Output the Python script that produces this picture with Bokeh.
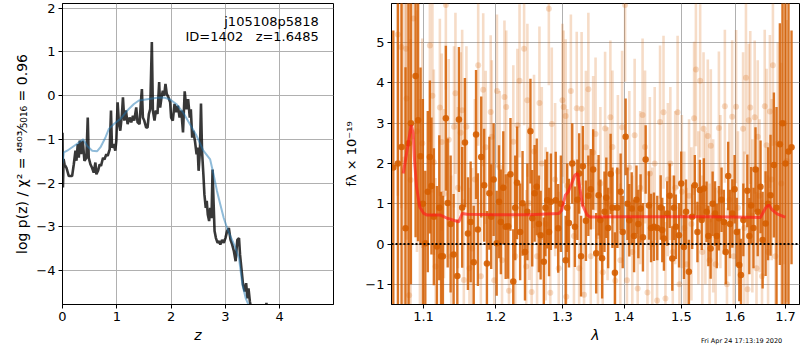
import numpy as np
from bokeh.plotting import figure
from bokeh.models import Range1d, FixedTicker, PrintfTickFormatter, Label, Span, ColumnDataSource, Div
from bokeh.layouts import row, column
from bokeh.embed import file_html
from bokeh.resources import INLINE

FONT = "DejaVu Sans"

# ---------------- left panel: redshift probability ----------------
z_grid = [0.000, 0.008, 0.020, 0.037, 0.073, 0.116, 0.177, 0.208, 0.239, 0.257, 0.281, 0.300,
          0.318, 0.343, 0.373, 0.404, 0.440, 0.465, 0.483, 0.514, 0.544, 0.575, 0.606, 0.624,
          0.654, 0.685, 0.709, 0.746, 0.771, 0.807, 0.832, 0.869, 0.893, 0.911, 0.942, 0.972,
          0.991, 1.015, 1.040, 1.064, 1.095, 1.113, 1.138, 1.168, 1.199, 1.235, 1.266, 1.297,
          1.321, 1.358, 1.382, 1.419, 1.443, 1.462, 1.480, 1.505, 1.541, 1.566, 1.590, 1.615,
          1.645, 1.664, 1.694, 1.719, 1.749, 1.780, 1.798, 1.823, 1.847, 1.872, 1.896, 1.920,
          1.951, 1.982, 2.000, 2.031, 2.063, 2.094, 2.125, 2.156, 2.188, 2.219, 2.250, 2.281,
          2.313, 2.344, 2.363, 2.388, 2.406, 2.438, 2.469, 2.488, 2.506, 2.531, 2.550, 2.569,
          2.594, 2.613, 2.638, 2.656, 2.675, 2.700, 2.719, 2.744, 2.763, 2.781, 2.800, 2.825,
          2.856, 2.888, 2.906, 2.938, 2.969, 3.000, 3.031, 3.063, 3.094, 3.125, 3.156, 3.188,
          3.219, 3.250, 3.269, 3.294, 3.325, 3.356, 3.381, 3.406, 3.425, 3.450, 3.469, 3.520,
          3.620, 3.720, 3.755, 3.790, 3.900, 4.200, 4.600, 5.000]
log_pz = [-0.85, -2.10, -1.45, -1.57, -1.65, -1.84, -1.84, -1.57, -1.26, -1.49, -1.11, -1.42,
          -1.03, -1.34, -1.03, -1.49, -1.42, -0.50, -1.42, -1.57, -1.65, -1.76, -1.53, -1.80,
          -1.72, -1.57, -1.61, -1.42, -1.46, -1.34, -1.38, -1.23, -0.34, -1.19, -1.11, -1.26,
          -1.03, -0.15, -0.65, -0.80, -0.42, -0.04, -0.57, -0.34, -0.65, -0.50, -0.61, -0.46,
          -0.57, -0.27, -0.61, -0.65, -0.15, 0.15, -0.50, -0.57, -0.73, -0.73, -0.42, -0.31,
          1.23, -0.34, -0.57, -0.34, -0.42, 0.31, -0.27, -0.04, 0.11, 0.00, 0.27, 0.04,
          -0.04, -0.15, -0.50, -0.57, -0.19, -0.38, -0.23, -0.50, -0.34, -0.84, 0.10, -0.31,
          -0.08, -0.50, -0.31, -0.96, -0.80, -1.03, -1.34, -1.19, -1.72, -1.26, -0.18, -1.26,
          -1.80, -2.26, -2.57, -2.41, -2.72, -2.87, -2.57, -2.80, -1.69, -2.41, -3.10, -3.26,
          -3.37, -3.33, -3.41, -3.30, -3.37, -3.26, -3.10, -3.03, -3.30, -3.41, -3.56, -3.79,
          -3.30, -3.26, -3.64, -3.95, -4.33, -4.48, -4.29, -4.64, -4.41, -4.71, -4.83, -5.30,
          -5.60, -5.30, -4.74, -5.40, -5.90, -6.50, -7.20, -8.00]

z_prior = [0.000, 0.025, 0.086, 0.178, 0.270, 0.381, 0.455, 0.547, 0.639, 0.700, 0.793, 0.854,
           0.946, 1.069, 1.192, 1.315, 1.407, 1.561, 1.745, 1.868, 1.970, 2.094, 2.219, 2.344,
           2.469, 2.594, 2.719, 2.781, 2.844, 2.906, 2.969, 3.031, 3.094, 3.188, 3.250, 3.313,
           3.375, 3.438, 3.550, 3.700]
log_prior = [-1.55, -1.30, -1.26, -1.18, -1.10, -1.00, -1.15, -1.26, -1.27, -1.18, -0.95, -0.76,
             -0.65, -0.53, -0.34, -0.19, -0.11, -0.08, -0.05, -0.04, -0.08, -0.19, -0.38, -0.65,
             -0.92, -1.26, -1.46, -1.80, -2.18, -2.49, -2.80, -3.03, -3.22, -3.49, -3.72, -4.33,
             -4.64, -4.83, -5.30, -6.00]

z_ticks = [0, 1, 2, 3, 4]
lnp_ticks = [-4, -3, -2, -1, 0, 1, 2]
obj_name = "j105108p5818"
obj_info = "ID=1402\u00a0\u00a0\u00a0z=1.6485"
left_ylabel = "log p(z) / \u03c7\u00b2 = \u2074\u2078\u2070\u00b3\u2044\u2085\u2080\u2081\u2086 = 0.96"

# ---------------- right panel: spectrum ----------------
dark_wave = [1.0608, 1.0667, 1.0714, 1.0765, 1.0804, 1.0835, 1.0896, 1.0929, 1.0961, 1.0992,
             1.1024, 1.1057, 1.1085, 1.1106, 1.1138, 1.1179, 1.1211, 1.1235, 1.1260, 1.1300,
             1.1325, 1.1365, 1.1406, 1.1457, 1.1479, 1.1524, 1.1562, 1.1604, 1.1642, 1.1685,
             1.1718, 1.1744, 1.1791, 1.1833, 1.1872, 1.1907, 1.1933, 1.1968, 1.2012, 1.2046,
             1.2073, 1.2108, 1.2143, 1.2178, 1.2213, 1.2254, 1.2283, 1.2310, 1.2356, 1.2392,
             1.2428, 1.2464, 1.2510, 1.2537, 1.2573, 1.2605, 1.2637, 1.2664, 1.2713, 1.2737,
             1.2765, 1.2793, 1.2821, 1.2896, 1.2934, 1.2976, 1.3051, 1.3075, 1.3103, 1.3155,
             1.3197, 1.3236, 1.3265, 1.3295, 1.3324, 1.3373, 1.3412, 1.3451, 1.3490, 1.3539,
             1.3578, 1.3607, 1.3636, 1.3675, 1.3705, 1.3736, 1.3776, 1.3806, 1.3847, 1.3887,
             1.3943, 1.3978, 1.4027, 1.4059, 1.4089, 1.4130, 1.4170, 1.4211, 1.4243, 1.4282,
             1.4322, 1.4369, 1.4426, 1.4463, 1.4513, 1.4571, 1.4631, 1.4659, 1.4688, 1.4747,
             1.4791, 1.4837, 1.4867, 1.4900, 1.4957, 1.4997, 1.5046, 1.5084, 1.5136, 1.5196,
             1.5244, 1.5292, 1.5337, 1.5371, 1.5411, 1.5461, 1.5495, 1.5537, 1.5574, 1.5619,
             1.5652, 1.5692, 1.5742, 1.5785, 1.5822, 1.5868, 1.5903, 1.5947, 1.5991, 1.6032,
             1.6082, 1.6114, 1.6160, 1.6237, 1.6277, 1.6312, 1.6359, 1.6398, 1.6442, 1.6498,
             1.6539, 1.6598, 1.6648, 1.6697, 1.6765, 1.6818, 1.6886, 1.6939, 1.7000, 1.7062,
             1.7124]
dark_flux = [1.90, 2.00, 2.41, 0.39, 2.50, 3.00, 4.17, 3.07, 2.18, 1.00,
             0.02, 1.30, 2.16, 1.44, 0.68, -0.06, 0.90, -0.30, -0.30, 3.12,
             1.02, 0.50, -0.26, -0.79, 3.09, 0.91, 2.52, 0.26, 0.55, -0.45,
             2.72, 0.36, 2.16, 1.46, -0.48, 1.26, 0.68, 1.60, 0.02, 1.05,
             0.55, 1.40, 0.43, 0.44, 1.73, -0.93, 0.90, 1.52, 0.30, 1.01,
             -0.20, 0.80, 2.80, 0.64, 1.26, 1.42, 0.50, 0.22, -0.44, 0.90,
             1.09, 0.30, 1.05, 1.09, 0.39, 1.00, -0.40, 0.90, 0.52, 2.00,
             0.43, 1.10, 1.75, -0.30, 1.93, 0.58, 1.20, 1.36, 1.85, -0.23,
             1.21, 0.60, -0.35, 0.80, 1.15, 0.40, 1.74, 0.90, -0.71, 0.90,
             1.30, 0.30, 2.66, 1.00, 0.59, 0.88, 0.20, 1.10, 0.50, 0.88,
             0.17, 2.10, 0.96, 0.40, 0.43, 0.40, 0.91, 0.35, 0.14, 0.76,
             1.20, -0.36, 0.90, 0.43, 0.22, 1.50, -0.07, 0.80, -0.69, 0.68,
             1.46, 0.30, 1.34, 0.60, 1.38, 0.80, 0.20, -0.11, 1.00, 0.76,
             0.20, 0.64, 1.10, 0.55, -0.20, 1.69, 0.50, 0.76, 1.36, 0.30,
             -0.52, -0.77, 0.60, 1.32, 0.20, 0.96, 0.40, 1.85, 0.80, 1.42,
             0.10, 0.51, 1.00, 1.21, 1.96, 0.90, 2.48, 3.00, 2.00, 2.30,
             2.40]
dark_err = [3.40, 4.50, 4.50, 4.00, 5.00, 4.00, 4.00, 3.00, 2.20, 2.60,
            1.80, 2.00, 1.90, 1.70, 1.70, 1.50, 1.80, 1.60, 1.50, 1.80,
            1.60, 1.70, 1.50, 1.40, 1.80, 1.50, 1.60, 1.40, 1.50, 1.40,
            1.60, 1.40, 1.50, 1.40, 1.30, 1.40, 1.30, 1.40, 1.30, 1.40,
            1.30, 1.40, 1.30, 1.30, 1.40, 1.30, 1.30, 1.40, 1.20, 1.30,
            1.20, 1.20, 1.30, 1.20, 1.20, 1.20, 1.20, 1.10, 1.10, 1.20,
            1.20, 1.10, 1.20, 1.20, 1.10, 1.20, 1.10, 1.10, 1.10, 1.00,
            1.00, 1.00, 1.00, 1.00, 1.00, 1.00, 1.00, 1.00, 1.00, 1.00,
            1.00, 1.00, 1.00, 1.00, 1.00, 1.00, 1.00, 1.00, 1.00, 1.00,
            0.95, 0.90, 0.95, 0.90, 0.90, 0.90, 0.90, 0.85, 0.85, 0.85,
            0.85, 0.85, 0.85, 0.85, 0.85, 0.80, 0.80, 0.80, 0.80, 0.80,
            0.80, 0.80, 0.80, 0.80, 0.80, 0.80, 0.80, 0.80, 0.80, 0.80,
            0.75, 0.75, 0.75, 0.75, 0.75, 0.75, 0.75, 0.75, 0.80, 0.80,
            0.80, 0.80, 0.80, 0.80, 0.80, 0.85, 0.85, 0.85, 0.85, 0.85,
            0.90, 0.90, 0.90, 0.90, 0.95, 0.95, 1.00, 1.05, 1.10, 1.15,
            1.20, 1.30, 1.40, 1.50, 1.80, 2.50, 3.00, 5.00, 5.00, 4.50,
            2.90]

light_wave = [1.0666, 1.0709, 1.0749, 1.0773, 1.0779, 1.0812, 1.0831, 1.0867, 1.0914, 1.0953,
              1.0984, 1.1085, 1.1119, 1.1138, 1.1162, 1.1219, 1.1244, 1.1274, 1.1300, 1.1339,
              1.1373, 1.1411, 1.1431, 1.1465, 1.1503, 1.1524, 1.1547, 1.1583, 1.1625, 1.1663,
              1.1701, 1.1748, 1.1786, 1.1819, 1.1854, 1.1926, 1.1942, 1.1977, 1.2016, 1.2055,
              1.2090, 1.2125, 1.2151, 1.2191, 1.2255, 1.2283, 1.2315, 1.2347, 1.2415, 1.2446,
              1.2464, 1.2492, 1.2528, 1.2564, 1.2610, 1.2646, 1.2682, 1.2741, 1.2790, 1.2812,
              1.2835, 1.2887, 1.2943, 1.3000, 1.3019, 1.3051, 1.3061, 1.3075, 1.3133, 1.3182,
              1.3226, 1.3265, 1.3304, 1.3343, 1.3373, 1.3412, 1.3451, 1.3490, 1.3529, 1.3568,
              1.3607, 1.3646, 1.3685, 1.3726, 1.3772, 1.3806, 1.3853, 1.3897, 1.3938, 1.3968,
              1.4018, 1.4049, 1.4089, 1.4140, 1.4180, 1.4232, 1.4274, 1.4316, 1.4358, 1.4400,
              1.4442, 1.4484, 1.4526, 1.4568, 1.4620, 1.4681, 1.4715, 1.4758, 1.4802, 1.4845,
              1.4889, 1.4932, 1.4965, 1.5008, 1.5052, 1.5095, 1.5139, 1.5182, 1.5231, 1.5264,
              1.5309, 1.5342, 1.5382, 1.5405, 1.5439, 1.5484, 1.5517, 1.5540, 1.5585, 1.5630,
              1.5692, 1.5720, 1.5805, 1.5845, 1.5892, 1.5944, 1.5974, 1.6020, 1.6055, 1.6155,
              1.6178, 1.6211, 1.6242, 1.6266, 1.6295, 1.6336, 1.6382, 1.6418, 1.6442, 1.6478,
              1.6527, 1.6581, 1.6618, 1.6648, 1.6685, 1.6721, 1.6745, 1.6794, 1.6842, 1.6915,
              1.6976, 1.7025]
light_flux = [5.20, 4.89, 2.10, 4.85, 3.61, -1.27, 1.59, 5.60, 2.80, 1.00,
              2.50, 4.93, 3.68, 2.03, -0.56, 3.39, 2.53, 1.25, 5.93, 2.59,
              -0.30, 2.91, 3.74, 1.40, 2.76, 3.32, -0.89, 2.91, -0.60, -0.11,
              1.60, 4.44, -0.80, 3.83, 2.40, 3.28, 2.66, -0.90, 3.80, 1.90,
              -0.40, 3.65, 3.40, -1.16, 2.54, -0.30, 2.95, 4.05, 4.85, -0.56,
              3.57, 1.01, -1.19, 2.30, -0.30, 3.50, 2.00, 0.50, 5.84, -1.21,
              2.98, 1.60, -0.60, 3.57, 3.40, 3.18, -1.31, 1.45, 3.80, 0.20,
              3.37, -0.60, 3.36, -1.26, 2.40, 3.84, -0.30, 2.27, 2.73, 0.20,
              1.50, -0.70, 2.87, 1.00, 3.15, 2.41, -0.91, 1.80, -0.40, 2.90,
              5.93, -0.90, 1.90, -0.20, 2.70, -1.10, 1.40, 3.20, 2.41, -1.20,
              1.75, 0.00, 2.00, -1.40, 3.03, 3.27, -1.35, 1.60, 2.00, -0.20,
              1.40, 3.27, -1.00, 1.30, 0.40, -0.50, 1.20, 0.50, 3.12, 4.33,
              0.90, 4.05, -0.20, 2.86, 0.90, 2.68, -0.40, 2.44, 0.70, -0.50,
              2.88, 1.30, 3.42, -1.00, 1.10, 3.16, -0.30, 3.41, 0.90, 2.86,
              0.40, 4.13, -1.12, 3.07, 3.39, 0.70, 3.15, -0.60, 2.66, 1.20,
              -0.80, 3.42, 2.45, -0.20, 3.29, 1.60, 4.44, -0.30, 2.50, 1.50,
              3.00, 2.06]
light_err = [4.00, 4.00, 4.00, 4.00, 3.50, 3.50, 3.50, 3.00, 3.00, 2.60,
             2.60, 2.40, 2.40, 2.30, 2.20, 2.20, 2.20, 2.10, 2.10, 2.00,
             2.00, 2.00, 2.00, 2.00, 2.00, 2.00, 2.00, 2.00, 2.00, 2.00,
             2.00, 2.00, 1.90, 1.90, 1.90, 1.90, 1.90, 1.90, 1.90, 1.90,
             1.90, 1.90, 1.90, 1.90, 1.90, 1.90, 1.90, 1.90, 1.90, 1.90,
             1.90, 1.90, 1.90, 1.90, 1.90, 1.90, 1.90, 1.90, 1.90, 1.90,
             1.90, 1.90, 1.90, 1.90, 1.90, 1.90, 1.90, 1.90, 1.90, 1.90,
             1.90, 1.90, 1.90, 1.90, 1.90, 1.90, 1.90, 1.90, 1.90, 1.90,
             1.90, 1.90, 1.90, 1.90, 1.90, 1.90, 1.90, 1.90, 1.90, 1.90,
             1.90, 1.90, 1.90, 1.90, 1.90, 1.90, 1.90, 1.90, 1.90, 1.90,
             1.90, 1.90, 1.90, 1.90, 1.90, 1.90, 1.90, 1.90, 1.90, 1.90,
             1.90, 1.90, 1.90, 1.90, 1.90, 1.90, 1.90, 1.90, 1.90, 1.90,
             1.90, 1.90, 1.90, 1.90, 1.90, 1.90, 1.90, 1.90, 1.90, 1.90,
             1.90, 1.90, 1.90, 1.90, 1.90, 1.90, 1.90, 1.90, 1.90, 1.90,
             1.90, 1.90, 1.90, 1.90, 1.90, 1.90, 1.90, 1.90, 1.90, 1.90,
             1.90, 1.90, 1.90, 1.90, 1.90, 2.00, 2.00, 2.20, 2.50, 3.00,
             3.50, 3.50]

model_wave = [1.0735, 1.0764, 1.0807, 1.0839, 1.0865, 1.0882, 1.0908, 1.0951, 1.1004, 1.1049,
              1.1227, 1.1318, 1.1477, 1.1524, 1.1593, 1.2000, 1.2500, 1.2945, 1.2990, 1.3048,
              1.3092, 1.3145, 1.3197, 1.3240, 1.3276, 1.3320, 1.3393, 1.3441, 1.4000, 1.4500,
              1.5000, 1.5500, 1.6000, 1.6496, 1.6595, 1.6661, 1.6729, 1.6828, 1.6966, 1.7000]
model_flux = [1.75, 2.08, 2.58, 2.95, 2.74, 2.08, 1.42, 0.92, 0.76, 0.72,
              0.72, 0.64, 0.55, 0.76, 0.74, 0.73, 0.73, 0.76, 0.84, 1.22,
              1.30, 1.50, 1.71, 1.75, 1.38, 0.96, 0.72, 0.67, 0.68, 0.68,
              0.68, 0.68, 0.67, 0.66, 0.89, 0.97, 0.85, 0.75, 0.68, 0.67]

wave_ticks = [1.1, 1.2, 1.3, 1.4, 1.5, 1.6, 1.7]
flux_ticks = [-1, 0, 1, 2, 3, 4, 5]
zero_level = 0.0
timestamp = "Fri Apr 24 17:13:19 2020"

SPEC = "#d55e00"
GRID = "#b0b0b0"


def style(p):
    p.background_fill_color = "white"
    p.border_fill_color = "white"
    p.outline_line_color = "black"
    p.outline_line_width = 1
    for ax in p.axis:
        ax.axis_line_color = "black"
        ax.major_tick_line_color = "black"
        ax.major_tick_out = 4
        ax.major_tick_in = 0
        ax.minor_tick_line_color = None
        ax.major_label_text_font = FONT
        ax.major_label_text_font_size = "13px"
        ax.major_label_text_color = "black"
        ax.major_label_standoff = 3
        ax.axis_label_text_font = FONT
        ax.axis_label_text_font_size = "13px"
        ax.axis_label_text_color = "black"
        ax.axis_label_standoff = 3
    for g in p.grid:
        g.grid_line_color = GRID
        g.grid_line_width = 1


# ---------------- left figure ----------------
p1 = figure(width=338, height=348, output_backend="svg", toolbar_location=None,
            x_range=Range1d(0, 4.99), y_range=Range1d(-4.78, 2.11),
            min_border_left=62, min_border_right=5, min_border_top=3, min_border_bottom=44)
p1.line(z_grid, log_pz, line_color="black", line_alpha=0.78, line_width=2.6)
p1.line(z_prior, log_prior, line_color="#1f77b4", line_alpha=0.5, line_width=2)
style(p1)
p1.xaxis.ticker = FixedTicker(ticks=z_ticks)
p1.xgrid.ticker = FixedTicker(ticks=z_ticks)
p1.yaxis.ticker = FixedTicker(ticks=lnp_ticks)
p1.ygrid.ticker = FixedTicker(ticks=lnp_ticks)
p1.xaxis.axis_label = "z"
p1.xaxis.axis_label_text_font_style = "italic"
p1.xaxis.axis_label_text_font_size = "14px"
p1.yaxis.axis_label = left_ylabel
p1.yaxis.axis_label_text_font_style = "normal"
p1.yaxis.axis_label_text_font_size = "14px"
p1.add_layout(Label(x=4.72, y=1.86, text=obj_name, text_align="right", text_baseline="top",
                    text_font=FONT, text_font_size="13px", text_color="black"))
p1.add_layout(Label(x=4.72, y=1.52, text=obj_info, text_align="right", text_baseline="top",
                    text_font=FONT, text_font_size="13px", text_color="black"))

# ---------------- right figure ----------------
p2 = figure(width=462, height=348, output_backend="svg", toolbar_location=None,
            x_axis_type="log",
            x_range=Range1d(1.0585, 1.7289), y_range=Range1d(-1.5, 5.97),
            min_border_left=53, min_border_right=1, min_border_top=3, min_border_bottom=44)

lf = np.array(light_flux)
le = np.array(light_err)
df = np.array(dark_flux)
de = np.array(dark_err)
light_src = ColumnDataSource(dict(w=light_wave, f=light_flux, lo=lf - le, hi=lf + le))
dark_src = ColumnDataSource(dict(w=dark_wave, f=dark_flux, lo=df - de, hi=df + de))

p2.segment(x0="w", y0="lo", x1="w", y1="hi", source=light_src,
           line_color=SPEC, line_alpha=0.22, line_width=2.6)
p2.scatter(x="w", y="f", source=light_src, size=6, marker="circle",
           fill_color=SPEC, fill_alpha=0.22, line_color=None)
p2.segment(x0="w", y0="lo", x1="w", y1="hi", source=dark_src,
           line_color=SPEC, line_alpha=0.85, line_width=2.4)
p2.scatter(x="w", y="f", source=dark_src, size=6.5, marker="circle",
           fill_color=SPEC, fill_alpha=0.9, line_color=None)
p2.line(model_wave, model_flux, line_color="#ff1a1a", line_alpha=0.65, line_width=3)
p2.add_layout(Span(location=zero_level, dimension="width", line_color="black",
                   line_width=2, line_dash="2 2"))
style(p2)
p2.xaxis.ticker = FixedTicker(ticks=wave_ticks)
p2.xgrid.ticker = FixedTicker(ticks=wave_ticks)
p2.xaxis.formatter = PrintfTickFormatter(format="%.1f")
p2.yaxis.ticker = FixedTicker(ticks=flux_ticks)
p2.ygrid.ticker = FixedTicker(ticks=flux_ticks)
p2.xaxis.axis_label = "\u03bb"
p2.xaxis.axis_label_text_font_style = "italic"
p2.xaxis.axis_label_text_font_size = "14px"
p2.yaxis.axis_label = "f\u03bb \u00d7 10\u207b\u00b9\u2079"
p2.yaxis.axis_label_text_font_style = "normal"

stamp = Div(text=timestamp, width=100, height=10, margin=(-11, 0, 0, 701),
            styles={"font-family": FONT, "font-size": "6.5px", "color": "black",
                    "line-height": "8px", "white-space": "nowrap"})

layout = column(row(p1, p2), stamp)
open("out.html", "w").write(file_html(layout, INLINE))
